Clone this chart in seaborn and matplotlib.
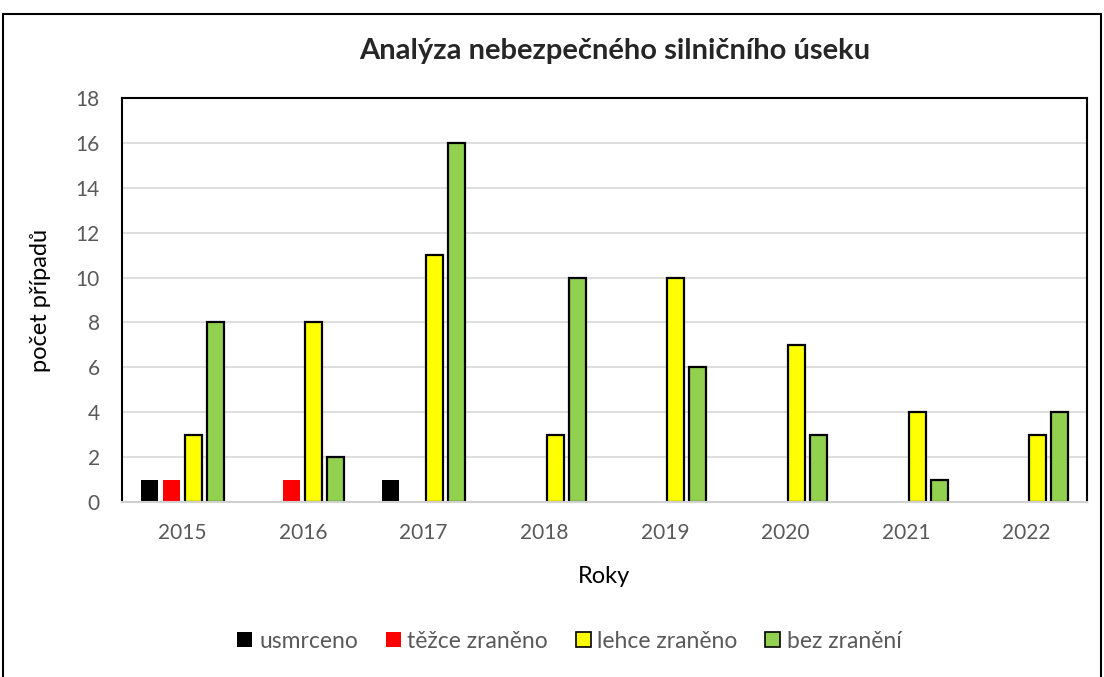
import matplotlib
matplotlib.use("Agg")
import matplotlib.pyplot as plt
from matplotlib.patches import Patch, Rectangle
import seaborn as sns
import pandas as pd

years = ['2015', '2016', '2017', '2018', '2019', '2020', '2021', '2022']
usmrceno = [1, 0, 1, 0, 0, 0, 0, 0]
tezce = [1, 1, 0, 0, 0, 0, 0, 0]
lehce = [3, 8, 11, 3, 10, 7, 4, 3]
bez = [8, 2, 16, 10, 6, 3, 1, 4]
series_names = ['usmrceno', 'těžce zraněno', 'lehce zraněno', 'bez zranění']
colors = ['#000000', '#ff0000', '#ffff00', '#92d050']

rows = []
for name, vals in zip(series_names, [usmrceno, tezce, lehce, bez]):
    for y, v in zip(years, vals):
        rows.append({'rok': y, 'skupina': name, 'pocet': v})
df = pd.DataFrame(rows)

sns.set_style('white')
plt.rcParams['font.family'] = ['Lato', 'DejaVu Sans']
gray = '#595959'

fig = plt.figure(figsize=(11.04, 6.77), dpi=100)
ax = fig.add_axes([0.1105, 0.2585, 0.8741, 0.5967])

sns.barplot(data=df, x='rok', y='pocet', hue='skupina', hue_order=series_names,
            palette=colors, width=0.73, gap=0.23, saturation=1, ax=ax, legend=False)

for i, cont in enumerate(ax.containers):
    for bar in cont:
        if i >= 2:
            bar.set_edgecolor('black')
            bar.set_linewidth(1.6)
        else:
            bar.set_linewidth(0)

ax.set_ylim(0, 18)
ax.set_yticks(range(0, 19, 2))
ax.yaxis.grid(True, color='#d9d9d9', linewidth=1.2)
ax.set_axisbelow(True)
ax.tick_params(axis='both', labelsize=15, colors=gray, length=0)
ax.tick_params(axis='x', pad=15)
ax.tick_params(axis='y', pad=16)
for lab in ax.get_xticklabels() + ax.get_yticklabels():
    lab.set_color(gray)

for side in ['left', 'top', 'right']:
    ax.spines[side].set_color('black')
    ax.spines[side].set_linewidth(1.5)
ax.spines['bottom'].set_color('#d0d0d0')
ax.spines['bottom'].set_linewidth(1.5)

ax.set_xlabel('Roky', fontsize=17, color='black', labelpad=17)
ax.set_ylabel('počet případů', fontsize=17, color='black', labelpad=18)

fig.text(0.557, 0.925, 'Analýza nebezpečného silničního úseku', fontsize=21,
         fontweight='bold', ha='center', va='center')

handles = [Patch(facecolor=c, edgecolor='black' if i >= 2 else c, linewidth=1.2 if i >= 2 else 0)
           for i, c in enumerate(colors)]
leg = fig.legend(handles, series_names, loc='center', bbox_to_anchor=(0.516, 0.053),
                 ncol=4, frameon=False, fontsize=16.5, handlelength=0.65, handleheight=0.65,
                 handletextpad=0.3, columnspacing=1.2)
for t in leg.get_texts():
    t.set_color(gray)

fig.patches.append(Rectangle((0.003, -0.01), 0.994, 0.99, transform=fig.transFigure,
                             fill=False, edgecolor='black', linewidth=1.5))

fig.savefig('out.png', dpi=100)
